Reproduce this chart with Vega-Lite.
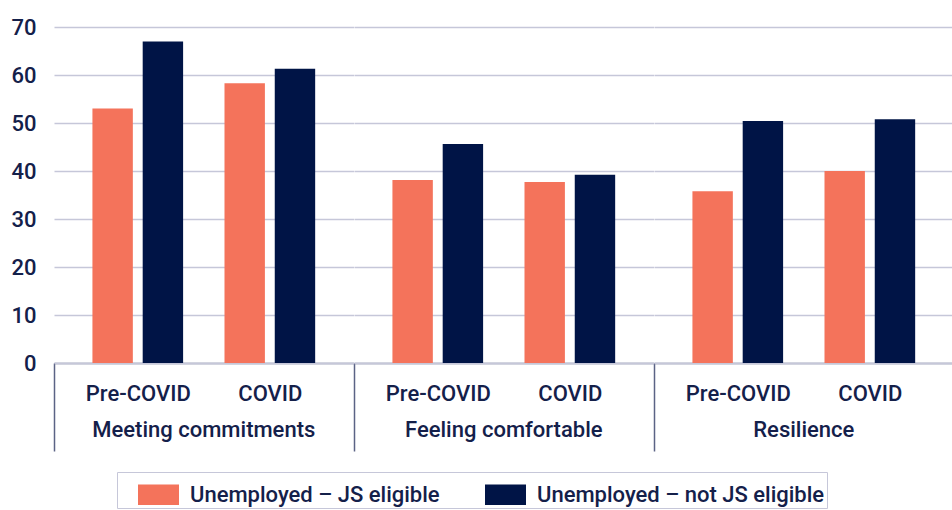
{
  "$schema": "https://vega.github.io/schema/vega-lite/v6.json",
  "padding": {"left": 10, "top": 16, "right": 0, "bottom": 0},
  "background": "white",
  "data": {"values": [
    {"group": "Meeting commitments", "period": "Pre-COVID", "series": "Unemployed – JS eligible", "value": 53.0},
    {"group": "Meeting commitments", "period": "Pre-COVID", "series": "Unemployed – not JS eligible", "value": 67.0},
    {"group": "Meeting commitments", "period": "COVID", "series": "Unemployed – JS eligible", "value": 58.3},
    {"group": "Meeting commitments", "period": "COVID", "series": "Unemployed – not JS eligible", "value": 61.3},
    {"group": "Feeling comfortable", "period": "Pre-COVID", "series": "Unemployed – JS eligible", "value": 38.1},
    {"group": "Feeling comfortable", "period": "Pre-COVID", "series": "Unemployed – not JS eligible", "value": 45.6},
    {"group": "Feeling comfortable", "period": "COVID", "series": "Unemployed – JS eligible", "value": 37.7},
    {"group": "Feeling comfortable", "period": "COVID", "series": "Unemployed – not JS eligible", "value": 39.2},
    {"group": "Resilience", "period": "Pre-COVID", "series": "Unemployed – JS eligible", "value": 35.8},
    {"group": "Resilience", "period": "Pre-COVID", "series": "Unemployed – not JS eligible", "value": 50.4},
    {"group": "Resilience", "period": "COVID", "series": "Unemployed – JS eligible", "value": 40.0},
    {"group": "Resilience", "period": "COVID", "series": "Unemployed – not JS eligible", "value": 50.8}
  ]},
  "spacing": 0,
  "facet": {
    "column": {
      "field": "group", "type": "nominal",
      "sort": ["Meeting commitments", "Feeling comfortable", "Resilience"],
      "header": {
        "title": null, "labelOrient": "bottom", "labelPadding": -32,
        "labelFontSize": 22, "labelFont": "Roboto", "labelFontWeight": 500, "labelColor": "#14204a"
      }
    }
  },
  "spec": {
    "width": 299.6,
    "height": 336,
    "mark": {"type": "bar"},
    "encoding": {
      "x": {
        "field": "period", "type": "nominal", "sort": ["Pre-COVID", "COVID"],
        "scale": {"paddingInner": 0.3134, "paddingOuter": 0.291},
        "axis": {
          "title": null, "labelAngle": 0,
          "domainColor": "#5b6385", "domainWidth": 1.5,
          "tickColor": "#5b6385", "tickWidth": 1.5, "tickSize": 88,
          "tickOffset": -83.8, "labelOffset": 83.8,
          "tickOpacity": {"condition": {"test": "datum.value === 'COVID'", "value": 0}, "value": 1},
          "labelPadding": -68, "labelBaseline": "top",
          "labelFontSize": 22, "labelFont": "Roboto", "labelFontWeight": 500, "labelColor": "#14204a"
        }
      },
      "xOffset": {
        "field": "series", "type": "nominal",
        "sort": ["Unemployed – JS eligible", "Unemployed – not JS eligible"],
        "scale": {"paddingInner": 0.196, "paddingOuter": 0}
      },
      "y": {
        "field": "value", "type": "quantitative",
        "scale": {"domain": [0, 70]},
        "axis": {
          "title": null, "values": [0, 10, 20, 30, 40, 50, 60, 70],
          "grid": true, "gridColor": "#c6c7d9", "gridWidth": 1.5,
          "domain": false, "ticks": false, "labelPadding": 18,
          "labelFontSize": 22, "labelFont": "Roboto", "labelFontWeight": 500, "labelColor": "#14204a"
        }
      },
      "color": {
        "field": "series", "type": "nominal",
        "sort": ["Unemployed – JS eligible", "Unemployed – not JS eligible"],
        "scale": {"domain": ["Unemployed – JS eligible", "Unemployed – not JS eligible"], "range": ["#f4735b", "#001446"]},
        "legend": {
          "title": null, "orient": "none", "direction": "horizontal",
          "legendX": 63, "legendY": 445,
          "strokeColor": "#c6c7d9", "padding": 2,
          "symbolType": "M-1,-0.5H1V0.5H-1Z", "symbolSize": 1681, "symbolStrokeWidth": 0, "symbolOpacity": 1,
          "symbolOffset": 19, "labelOffset": 11, "columnPadding": 26,
          "labelFontSize": 22, "labelFont": "Roboto", "labelFontWeight": 500, "labelColor": "#14204a", "labelLimit": 400
        }
      }
    }
  },
  "config": {"view": {"stroke": null}}
}
